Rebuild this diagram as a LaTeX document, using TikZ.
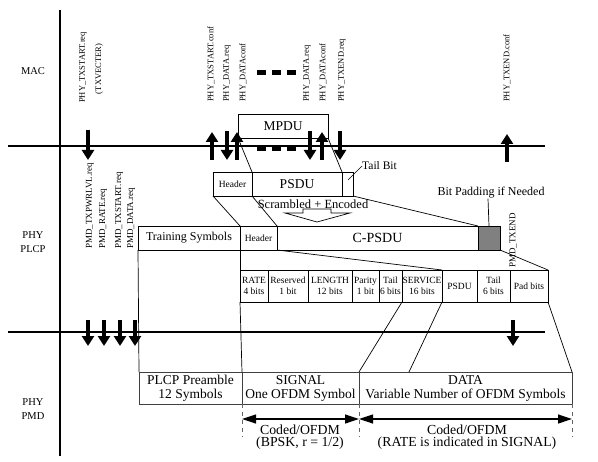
\documentclass[tikz,border=0pt]{standalone}
\usepackage{fontspec}
\setmainfont{Liberation Serif}
\usetikzlibrary{arrows.meta}
\newcommand{\myfs}[2]{\fontsize{#1bp}{#2bp}\selectfont}
\tikzset{
  box/.style={draw, line width=0.8bp, inner sep=0pt, outer sep=0pt, anchor=north west, align=center},
  vlab/.style={rotate=90, anchor=west, inner sep=0pt, font=\myfs{8.5}{9}},
  pmdlab/.style={rotate=90, anchor=west, inner sep=0pt, font=\myfs{9}{10}},
  fatarrow/.style={line width=4bp, -{Triangle[length=10bp,width=12bp]}},
  layer/.style={align=center, inner sep=0pt, font=\myfs{10.5}{13.5}},
  dashline/.style={draw=black!60, dash pattern=on 4bp off 4bp, line width=0.8bp},
  dimarrow/.style={line width=1.2bp, {Triangle[length=14bp,width=9bp]}-{Triangle[length=14bp,width=9bp]}},
  conn/.style={line width=0.7bp},
  axis/.style={line width=1.3bp},
  fld/.style={box, minimum height=32bp, font=\myfs{9.5}{11}},
  pmdbox/.style={box, minimum height=32bp, draw=black!75, font=\myfs{13.5}{14}},
}
\begin{document}
\begin{tikzpicture}[x=1bp,y=-1bp]
\useasboundingbox (0,0) rectangle (598,462);
% axes
\coordinate (axT) at (60,10); \coordinate (axB) at (60,456);
\draw[axis] (axT) -- (axB);
\coordinate (l1a) at (8,146); \coordinate (l1b) at (545,146);
\draw[axis] (l1a) -- (l1b);
\coordinate (l2a) at (8,332); \coordinate (l2b) at (545,332);
\draw[axis] (l2a) -- (l2b);
% layer labels
\node[layer] (mac) at (33,71) {MAC};
\node[layer] (plcp) at (33,242) {PHY\\PLCP};
\node[layer] (pmd) at (33,409) {PHY\\PMD};
% top primitive labels
\node[vlab] (t1) at (83,103) {PHY\_TXSTART.req};
\node[vlab, anchor=center] (t2) at (99,69) {(TXVECTER)};
\node[vlab] (t3) at (211,102) {PHY\_TXSTART.conf};
\node[vlab] (t4) at (227,102) {PHY\_DATA.req};
\node[vlab] (t5) at (243,102) {PHY\_DATAconf};
\node[vlab] (t6) at (307,102) {PHY\_DATA.req};
\node[vlab] (t7) at (323,102) {PHY\_DATAconf};
\node[vlab] (t8) at (342,102) {PHY\_TXEND.req};
\node[vlab] (t9) at (507,102) {PHY\_TXEND.conf};
% dashes
\foreach \x in {257,272,287} {
  \fill (\x,70) rectangle ++(8.5,5);
  \fill (\x,147) rectangle ++(9,4.5);
}
% MAC/PLCP arrows
\draw[fatarrow] (88,130) -- (88,160);
\draw[fatarrow] (212,160) -- (212,132);
\draw[fatarrow] (227,131) -- (227,160);
\draw[fatarrow] (237,160) -- (237,132);
\draw[fatarrow] (310,131) -- (310,160);
\draw[fatarrow] (322,160) -- (322,132);
\draw[fatarrow] (340,131) -- (340,160);
\draw[fatarrow] (507,162) -- (507,134);
% MPDU / PSDU
\node[box, minimum width=90bp, minimum height=24bp, font=\myfs{13.5}{14}] (mpdu) at (238,114) {MPDU};
\node[box, minimum width=39bp, minimum height=24bp, font=\myfs{9.5}{10}] (hdrA) at (213,172) {Header};
\node[box, minimum width=90bp, minimum height=24bp, font=\myfs{13.5}{14}] (psdu) at (252,172) {PSDU};
\node[box, minimum width=11bp, minimum height=24bp] (tailb) at (342,172) {};
\draw[conn] (mpdu.south west) -- (psdu.north west);
\draw[conn] (mpdu.south east) -- (psdu.north east);
\node[anchor=west, inner sep=0pt, font=\myfs{11.5}{12}] (tbl) at (362,166) {Tail Bit};
\coordinate (tbe) at (348,180);
\draw[conn] (tbl.west) -- (tbe);
% scrambled
\node[inner sep=0pt, font=\myfs{12.5}{13}] (scr) at (313,204) {Scrambled + Encoded};
\draw[line width=0.7bp] (303,209) -- (331,209) -- (331,213) -- (350,213) -- (317,222) -- (285,213) -- (303,213) -- cycle;
% C-PSDU row
\node[box, minimum width=102bp, minimum height=24bp, font=\myfs{12}{12}] (train) at (138,226) {Training Symbols};
\node[box, minimum width=37bp, minimum height=24bp, font=\myfs{9.5}{10}] (hdrB) at (240,226) {Header};
\node[box, minimum width=201bp, minimum height=24bp, font=\myfs{14}{14}] (cpsdu) at (277,226) {C-PSDU};
\node[box, minimum width=22bp, minimum height=24bp, fill=black!50] (pad) at (478,226) {};
\draw[conn] (hdrA.south west) -- (hdrB.north west);
\draw[conn] (hdrA.south east) -- (hdrB.north east);
\draw[conn] (tailb.south east) -- (cpsdu.north east);
\node[inner sep=0pt, font=\myfs{12}{12}] (bpl) at (491,193) {Bit Padding if Needed};
\draw[conn] ([xshift=-3bp]bpl.south) -- (pad.north);
% PMD labels
\node[pmdlab] (p1) at (90,249) {PMD\_TXPWRLVL.req};
\node[pmdlab] (p2) at (103,249) {PMD\_RATE.req};
\node[pmdlab] (p3) at (119,249) {PMD\_TXSTART.req};
\node[pmdlab] (p4) at (131,249) {PMD\_DATA.req};
\node[pmdlab] (p5) at (513,268) {PMD\_TXEND};
% field row
\node[fld, minimum width=28bp] (rate) at (240,270) {RATE\\4 bits};
\node[fld, minimum width=40bp] (resv) at (268,270) {Reserved\\1 bit};
\node[fld, minimum width=44bp] (len) at (308,270) {LENGTH\\12 bits};
\node[fld, minimum width=27bp] (par) at (352,270) {Parity\\1 bit};
\node[fld, minimum width=23bp] (tail6) at (379,270) {Tail\\6 bits};
\node[fld, minimum width=40bp] (serv) at (402,270) {SERVICE\\16 bits};
\node[fld, minimum width=35bp] (psdu2) at (442,270) {PSDU};
\node[fld, minimum width=33bp] (tail2) at (477,270) {Tail\\6 bits};
\node[fld, minimum width=38bp] (padb) at (510,270) {Pad bits};
\draw[conn] (hdrB.south west) -- (rate.north west);
\draw[conn] (hdrB.south east) -- (serv.north east);
\draw[conn] (pad.south east) -- (padb.north east);
% PMD arrows
\draw[fatarrow] (88,320) -- (88,346);
\draw[fatarrow] (104,320) -- (104,346);
\draw[fatarrow] (120,320) -- (120,346);
\draw[fatarrow] (135,320) -- (135,346);
\draw[fatarrow] (513,320) -- (513,346);
% PMD row
\node[pmdbox, minimum width=103bp] (pre) at (139,372) {PLCP Preamble\\12 Symbols};
\node[pmdbox, minimum width=117bp] (sig) at (242,372) {SIGNAL\\One OFDM Symbol};
\node[pmdbox, minimum width=213bp] (data) at (359,372) {DATA\\Variable Number of OFDM Symbols};
\coordinate (dmark) at (409,372);
\draw[conn] (train.south west) -- (pre.north west);
\draw[conn] (rate.south west) -- (sig.north west);
\draw[conn] (tail6.south east) -- (sig.north east);
\draw[conn] (serv.south east) -- (dmark);
\draw[conn] (padb.south east) -- (data.north east);
% dimension lines
\draw[dashline] (sig.south west) -- ++(0,33);
\draw[dashline] (sig.south east) -- ++(0,33);
\draw[dashline] (data.south east) -- ++(0,33);
\coordinate (d1) at (242,419); \coordinate (d2) at (359,419); \coordinate (d3) at (572,419);
\draw[dimarrow] (d1) -- (d2);
\draw[dimarrow] (d2) -- (d3);
\node[align=center, inner sep=0pt, font=\myfs{13.8}{12.5}] (c1) at (300,437) {Coded/OFDM\\(BPSK, r = 1/2)};
\node[align=center, inner sep=0pt, font=\myfs{13.8}{12.5}] (c2) at (467,437) {Coded/OFDM\\(RATE is indicated in SIGNAL)};
\end{tikzpicture}
\end{document}
